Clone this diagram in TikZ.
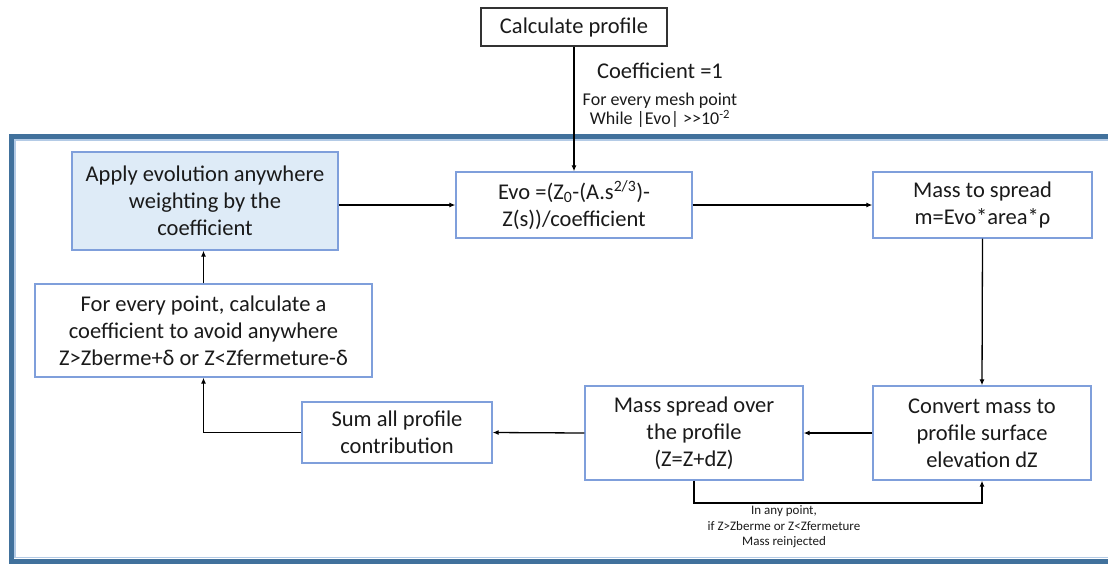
\documentclass[tikz,border=0pt]{standalone}
\usepackage{fontspec}
\setmainfont{Carlito}
\usetikzlibrary{arrows.meta}
\definecolor{boxblue}{HTML}{7F9FDB}
\definecolor{fillblue}{HTML}{DEEBF7}
\definecolor{framedark}{HTML}{41719C}
\definecolor{framelight}{HTML}{B4CBE6}
\definecolor{txt}{HTML}{1A1A1A}
\begin{document}
\begin{tikzpicture}[x=1pt,y=-1pt,
  proc/.style={draw=boxblue, line width=1.3pt, fill=white, align=center, inner sep=0pt,
    text=txt, font=\fontsize{22.5}{27}\selectfont},
  hl/.style={proc, fill=fillblue},
  topbox/.style={draw=black!80, line width=1.2pt, fill=white, align=center, inner sep=0pt,
    text=txt, font=\fontsize{22.5}{27}\selectfont},
  conn/.style={line width=1.3pt, black, -{Latex[length=6pt,width=5pt]}},
  lbl/.style={align=center, inner sep=0pt, text=txt},
]
\useasboundingbox (0,0) rectangle (1108,563);
% frame
\draw[framedark, line width=5pt] (1108,136.5) -- (11.5,136.5) -- (11.5,561) -- (1108,561);
\draw[framelight, line width=1.8pt] (1108,140) -- (15,140) -- (15,557.5) -- (1108,557.5);

% nodes
\node[topbox, minimum width=186pt, minimum height=38pt] (calc) at (574,27) {Calculate profile};
\node[hl, minimum width=266pt, minimum height=98pt] (apply) at (205,201)
  {Apply evolution anywhere\\weighting by the\\coefficient};
\node[proc, minimum width=236pt, minimum height=66pt] (evo) at (574,205)
  {Evo =(Z\textsubscript{0}-(A.s\textsuperscript{2/3})-\\Z(s))/coefficient};
\node[proc, minimum width=219pt, minimum height=66pt] (mass) at (982.5,205)
  {Mass to spread\\m=Evo*area*ρ};
\node[proc, minimum width=337pt, minimum height=93pt] (every) at (203.5,330.5)
  {For every point, calculate a\\coefficient to avoid anywhere\\Z>Zberme+δ or Z<Zfermeture-δ};
\node[proc, minimum width=218pt, minimum height=94pt] (convert) at (982,433)
  {Convert mass to\\profile surface\\elevation dZ};
\node[proc, minimum width=218pt, minimum height=94pt] (spread) at (694,433)
  {Mass spread over\\the profile\\(Z=Z+dZ)};
\node[proc, minimum width=190pt, minimum height=61pt] (sum) at (397,432.5)
  {Sum all profile\\contribution};

% labels
\node[lbl, font=\fontsize{22.5}{26}\selectfont] (coef) at (660,71) {Coefficient =1};
\node[lbl, font=\fontsize{18}{19.5}\selectfont] (mesh) at (660,110)
  {For every mesh point\\While |Evo| >{}>10\textsuperscript{-2}};
\node[lbl, font=\fontsize{13}{15.5}\selectfont] (reinj) at (784,527)
  {In any point,\\if Z>Zberme or Z<Zfermeture\\Mass reinjected};

% connectors
\coordinate (loopL) at (694,503);
\coordinate (loopR) at (982,503);
\draw[conn] (calc.south) -- (evo.north);
\draw[conn] (apply.east |- evo.west) -- (evo.west);
\draw[conn] (evo.east) -- (mass.west);
\draw[conn] (mass.south) -- (convert.north);
\draw[conn] (convert.west) -- (spread.east);
\draw[conn] (spread.west) -- (sum.east);
\draw[conn] (sum.west) -| (every.south);
\draw[conn] (every.north) -- (every.north |- apply.south);
\draw[conn] (spread.south) -- (loopL) -- (loopR) -- (convert.south);
\end{tikzpicture}
\end{document}
